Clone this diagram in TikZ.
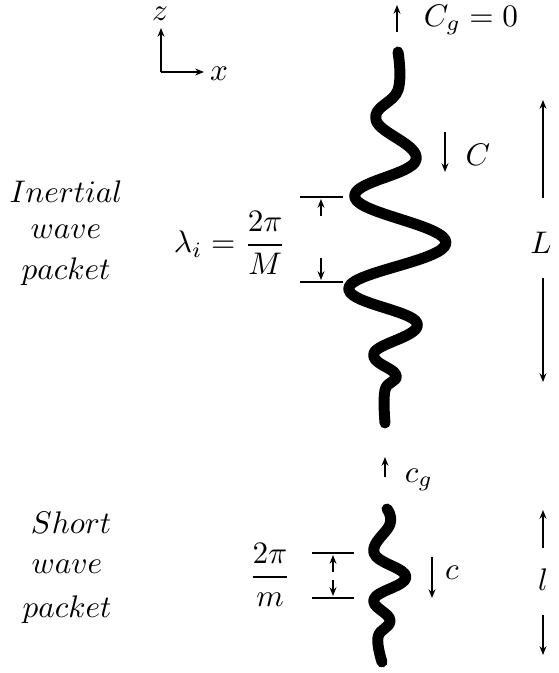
\documentclass[tikz,border=0pt]{standalone}
\usetikzlibrary{arrows.meta}
\begin{document}
\begin{tikzpicture}[x=0.32pt,y=-0.32pt,
  thin line/.style={line width=0.4pt},
  arr/.style={thin line,-{Stealth[length=2.8pt,width=2.2pt]}},
  wave/.style={line width=3.5pt,line cap=round,line join=round},
  lbl/.style={inner sep=0pt,font=\normalsize}]
\useasboundingbox (0,0) rectangle (558,673);
% axes
\coordinate (o) at (161,72);
\coordinate (zt) at (161,28);
\coordinate (xt) at (204,72);
\draw[arr] (o) -- (zt);
\draw[arr] (o) -- (xt);
\node[lbl] (zl) at (160,14) {$z$};
\node[lbl] (xl) at (219,74) {$x$};
% top group velocity
\coordinate (cg0a) at (397,32);
\coordinate (cg0b) at (397,5);
\draw[arr] (cg0a) -- (cg0b);
\node[lbl] (Cg) at (471,20) {$C_g = 0$};
% inertial wave
\draw[wave] plot[smooth,tension=0.7] coordinates {(398,52) (398,90) (376,120) (416,160) (355,198) (446,243) (349,287) (417,323) (374,353) (396,375) (385,390) (385,423)};
% C arrow
\coordinate (Ca) at (445,132);
\coordinate (Cb) at (445,172);
\draw[arr] (Ca) -- (Cb);
\node[lbl] (Cl) at (478,155) {$C$};
% lambda markers
\coordinate (l1a) at (300,197);
\coordinate (l1b) at (343,197);
\coordinate (l2a) at (300,282);
\coordinate (l2b) at (343,282);
\draw[thin line] (l1a) -- (l1b);
\draw[thin line] (l2a) -- (l2b);
\coordinate (la1) at (321,216);
\coordinate (la2) at (321,199);
\coordinate (la3) at (321,258);
\coordinate (la4) at (321,280);
\draw[arr] (la1) -- (la2);
\draw[arr] (la3) -- (la4);
\node[lbl] (lam) at (230,243) {$\displaystyle \lambda_i = \frac{2\pi}{M}$};
% L arrows
\coordinate (L1a) at (543,198);
\coordinate (L1b) at (543,100);
\coordinate (L2a) at (543,278);
\coordinate (L2b) at (543,382);
\draw[arr] (L1a) -- (L1b);
\draw[arr] (L2a) -- (L2b);
\node[lbl] (Ll) at (541,243) {$L$};
% inertial text
\node[lbl] (t1) at (66,192) {$Inertial$};
\node[lbl] (t2) at (66,232) {$wave$};
\node[lbl] (t3) at (66,272) {$packet$};
% short wave
\coordinate (cga) at (385,477);
\coordinate (cgb) at (385,457);
\draw[arr] (cga) -- (cgb);
\node[lbl] (cgl) at (419,480) {$c_g$};
\draw[wave] plot[smooth,tension=0.7] coordinates {(387,509) (390,524) (374,553) (406,577) (374,599) (390,620) (378,637) (382,662)};
% 2pi/m markers
\coordinate (m1a) at (312,553);
\coordinate (m1b) at (354,553);
\coordinate (m2a) at (312,598);
\coordinate (m2b) at (354,598);
\draw[thin line] (m1a) -- (m1b);
\draw[thin line] (m2a) -- (m2b);
\coordinate (ma1) at (333,572);
\coordinate (ma2) at (333,555);
\coordinate (ma3) at (333,580);
\coordinate (ma4) at (333,596);
\draw[arr] (ma1) -- (ma2);
\draw[arr] (ma3) -- (ma4);
\node[lbl] (mfrac) at (270,575) {$\displaystyle \frac{2\pi}{m}$};
% c arrow
\coordinate (ca) at (432,557);
\coordinate (cb) at (432,598);
\draw[arr] (ca) -- (cb);
\node[lbl] (cl) at (452,573) {$c$};
% l arrows
\coordinate (s1a) at (543,548);
\coordinate (s1b) at (543,510);
\coordinate (s2a) at (543,615);
\coordinate (s2b) at (543,655);
\draw[arr] (s1a) -- (s1b);
\draw[arr] (s2a) -- (s2b);
\node[lbl] (sl) at (543,580) {$l$};
% short text
\node[lbl] (u1) at (71,523) {$Short$};
\node[lbl] (u2) at (67,567) {$wave$};
\node[lbl] (u3) at (67,610) {$packet$};
\end{tikzpicture}
\end{document}
